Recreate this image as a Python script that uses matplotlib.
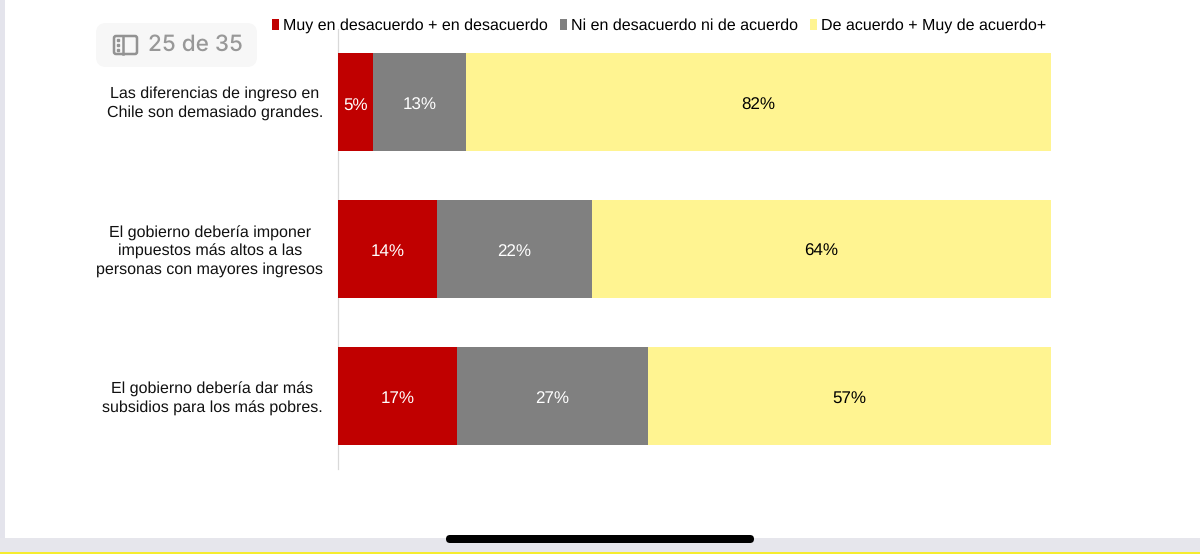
import numpy as np
import matplotlib
matplotlib.use('Agg')  # Use non-GUI backend
import matplotlib.pyplot as plt
from matplotlib.patches import FancyBboxPatch, Rectangle
from matplotlib.transforms import Affine2D

plt.rcParams['font.family'] = ['Liberation Sans', 'DejaVu Sans']
plt.rcParams['text.hinting'] = 'no_hinting'
plt.rcParams['text.hinting_factor'] = 1

W, H = 1200, 554

categories = [
    'Las diferencias de ingreso en\nChile son demasiado grandes.',
    'El gobierno debería imponer\nimpuestos más altos a las\npersonas con mayores ingresos',
    'El gobierno debería dar más\nsubsidios para los más pobres.',
]
series_names = ['Muy en desacuerdo + en desacuerdo',
                'Ni en desacuerdo ni de acuerdo',
                'De acuerdo + Muy de acuerdo+']
# widths, the labels are these rounded
desacuerdo = [5.0, 13.95, 16.75]
neutral = [13.0, 21.7, 26.7]
acuerdo = [82.0, 64.35, 56.55]
colors = ['#C00000', '#808080', '#FFF491']
label_colors = ['white', 'white', 'black']

fig = plt.figure(figsize=(W / 100, H / 100), dpi=100, facecolor='white')


def px_box(x0, y0, x1, y1):
    """Axes rectangle from pixel coords measured from the top left"""
    return [x0 / W, 1 - y1 / H, (x1 - x0) / W, (y1 - y0) / H]


# Screenshot chrome lives on a full-figure overlay in pixel coords
bg = fig.add_axes([0, 0, 1, 1], zorder=0)
bg.set_xlim(0, W)
bg.set_ylim(H, 0)
bg.axis('off')
bg.add_patch(Rectangle((0, 0), 5, H, color='#E4E4EC', lw=0))
bg.add_patch(Rectangle((0, 538), W, 16, color='#E6E6EC', lw=0))
bg.add_patch(Rectangle((0, 551.5), W, 2.5, color='#F5EC2E', lw=0))
bg.add_patch(FancyBboxPatch((446, 535), 308, 8, boxstyle='round,pad=0,rounding_size=4',
                            facecolor='black', edgecolor='none'))

# page badge
bg.add_patch(FancyBboxPatch((96, 23), 161, 44, boxstyle='round,pad=0,rounding_size=10',
                            facecolor='#F7F7F7', edgecolor='none'))
bg.add_patch(FancyBboxPatch((114, 36), 23, 18, boxstyle='round,pad=0,rounding_size=2',
                            facecolor='none', edgecolor='#939393', lw=1.8))
bg.plot([122.5, 122.5], [36, 54], color='#939393', lw=1.8)
bg.plot([118, 118, 118], [40, 45, 50], ls='none', marker='s', ms=2, color='#939393')
bg.text(148, 45, '25 de 35', fontsize=16.2, color='#989898', va='center', ha='left',
        family=['Inter', 'DejaVu Sans'], fontweight='medium')

ax = fig.add_axes(px_box(337.5, 29, 1051, 469), zorder=1)
ax.patch.set_alpha(0)

rows = [desacuerdo, neutral, acuerdo]
y = np.arange(len(categories))
left = np.zeros(len(categories))
for i, name in enumerate(series_names):
    bars = ax.barh(y, rows[i], left=left, height=0.67, color=colors[i], label=name, zorder=3)
    labels = ax.bar_label(bars, labels=[f'{round(v)}%' for v in rows[i]], label_type='center',
                          color=label_colors[i], fontsize=12)
    for t in labels:
        t.xyann = (0, -2)  # sits a little under the bar centre
    left += np.array(rows[i])

ax.set_xlim(0, 100)
ax.set_ylim(len(categories) - 0.5, -0.5)
ax.xaxis.set_visible(False)
ax.set_yticks(y)
ax.set_yticklabels(categories, fontsize=11.5, ha='center', linespacing=1.28, color='#111111')
ax.tick_params(axis='y', length=0, pad=88)
# the text boxes are not quite lined up in the original slide
for t, (dx, dy) in zip(ax.get_yticklabels(), [(-0.5, 2.5), (-5.5, 1), (-3, 0)]):
    t.set_transform(t.get_transform() + Affine2D().translate(dx, dy))
for side in ['top', 'right', 'bottom']:
    ax.spines[side].set_visible(False)
ax.spines['left'].set_color('#D9D9D9')
ax.spines['left'].set_linewidth(0.9)

ax.legend(loc='center left', bbox_to_anchor=(272 / W, 1 - 26 / H), bbox_transform=fig.transFigure,
          ncol=3, frameon=False, fontsize=11.45, handlelength=0.45, handleheight=0.62,
          handletextpad=0.25, columnspacing=0.75, borderpad=0, borderaxespad=0)

fig.savefig('out.png', dpi=100)
plt.close()
